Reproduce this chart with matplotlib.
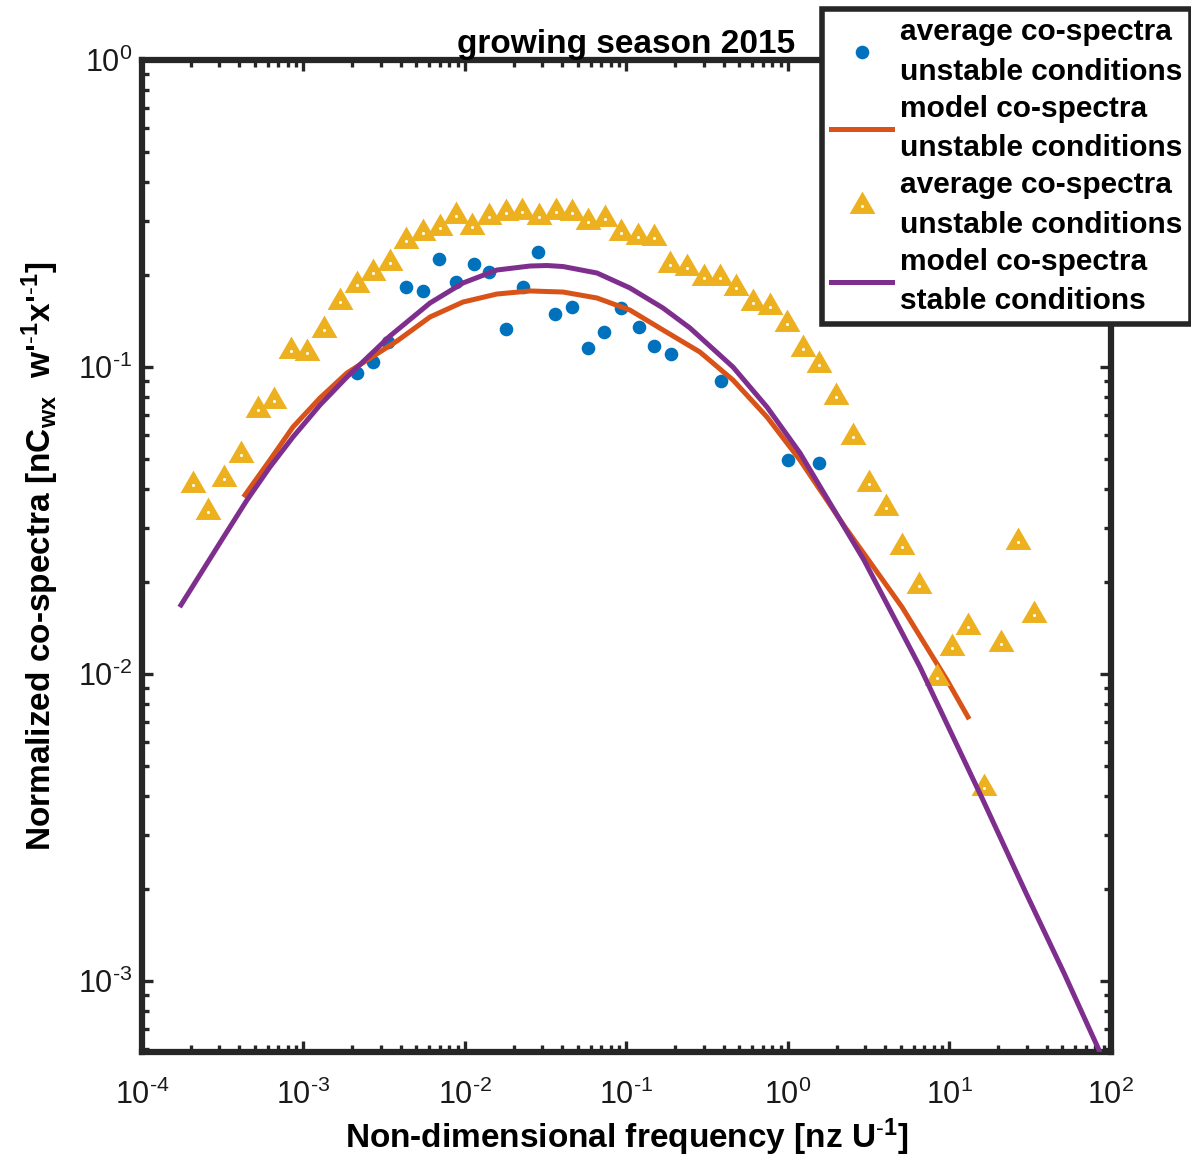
import numpy as np
import matplotlib.pyplot as plt
from matplotlib.ticker import LogLocator, NullFormatter, FuncFormatter
from matplotlib.legend_handler import HandlerTuple

plt.rcParams['font.family'] = ['Liberation Sans', 'DejaVu Sans']
plt.rcParams['mathtext.fontset'] = 'custom'
plt.rcParams['mathtext.rm'] = 'Liberation Sans'
plt.rcParams['mathtext.it'] = 'Liberation Sans:italic'
plt.rcParams['mathtext.bf'] = 'Liberation Sans:bold'
plt.rcParams['mathtext.default'] = 'regular'
plt.rcParams['axes.unicode_minus'] = False

# average co-spectra, unstable conditions (blue dots)
dots_x = [2.135e-3, 2.682e-3, 3.351e-3, 4.312e-3, 5.516e-3, 6.93e-3, 8.80e-3, 1.136e-2,
          1.402e-2, 1.794e-2, 2.277e-2, 2.831e-2, 3.623e-2, 4.598e-2, 5.776e-2, 7.256e-2,
          9.206e-2, 0.1190, 0.1480, 0.1894, 0.3847, 0.9958, 1.556]
dots_y = [0.0954, 0.1040, 0.1209, 0.1818, 0.1769, 0.2243, 0.1896, 0.2166,
          0.2035, 0.1332, 0.1826, 0.2364, 0.1488, 0.1569, 0.1150, 0.1303,
          0.1560, 0.1350, 0.1168, 0.1105, 0.0900, 0.0498, 0.0486]

# average co-spectra (yellow triangles)
tri_x = [2.077e-4, 2.573e-4, 3.219e-4, 4.102e-4, 5.205e-4, 6.595e-4, 8.330e-4, 1.056e-3,
         1.334e-3, 1.690e-3, 2.145e-3, 2.705e-3, 3.433e-3, 4.330e-3, 5.516e-3, 7.00e-3,
         8.80e-3, 1.110e-2, 1.408e-2, 1.786e-2, 2.264e-2, 2.872e-2, 3.644e-2, 4.618e-2,
         5.800e-2, 7.328e-2, 9.245e-2, 0.1173, 0.1486, 0.1859, 0.2369, 0.3019,
         0.3819, 0.4800, 0.6098, 0.7736, 0.9817, 1.244, 1.562, 1.982,
         2.515, 3.173, 4.027, 5.080, 6.474, 8.330, 10.32, 13.08,
         16.43, 20.75, 26.44, 33.51]
tri_y = [0.04126, 0.03363, 0.04317, 0.05168, 0.07244, 0.07750, 0.1130, 0.1108,
         0.1320, 0.1625, 0.1850, 0.2019, 0.2187, 0.2573, 0.2738, 0.2843,
         0.3103, 0.2864, 0.3087, 0.3167, 0.3205, 0.3087, 0.3205, 0.3167,
         0.2974, 0.3028, 0.2738, 0.2657, 0.2626, 0.2149, 0.2106, 0.1956,
         0.1956, 0.1804, 0.1620, 0.1572, 0.1380, 0.1142, 0.1015, 0.0800,
         0.0593, 0.0416, 0.03465, 0.02599, 0.01935, 0.009683, 0.01213, 0.01426,
         0.004243, 0.01250, 0.02685, 0.01557]

# model co-spectra, unstable conditions (orange line)
mod_u_x = [4.343e-4, 6.20e-4, 8.610e-4, 1.265e-3, 1.859e-3, 3.792e-3, 6.072e-3, 9.719e-3,
           1.578e-2, 2.527e-2, 4.044e-2, 6.569e-2, 0.1051, 0.1683, 0.2851, 0.4565,
           0.7413, 1.187, 2.253, 5.080, 9.650, 13.02]
mod_u_y = [0.03828, 0.04977, 0.06377, 0.07925, 0.09561, 0.1215, 0.1455, 0.1628,
           0.1729, 0.1769, 0.1755, 0.1678, 0.1533, 0.1320, 0.1119, 0.0907,
           0.06875, 0.04977, 0.03012, 0.01653, 0.009561, 0.007244]

# model co-spectra, stable conditions (purple line)
mod_s_x = [1.744e-4, 3.173e-4, 4.470e-4, 6.20e-4, 8.610e-4, 1.265e-3, 1.859e-3, 3.433e-3,
           6.072e-3, 9.719e-3, 1.578e-2, 2.527e-2, 3.219e-2, 4.044e-2, 6.569e-2, 0.1051,
           0.1683, 0.2473, 0.4565, 0.7413, 1.187, 2.955, 6.567, 16.12, 29.77, 51.17, 84.29]
mod_s_y = [0.01678, 0.02773, 0.03687, 0.04723, 0.05916, 0.07518, 0.09277, 0.1262,
           0.1616, 0.1878, 0.2070, 0.2133, 0.2141, 0.2125, 0.2024, 0.1809,
           0.1557, 0.1340, 0.1000, 0.07409, 0.05248, 0.02351, 0.01054, 0.003887,
           0.001935, 0.001062, 0.000596]

labels = ['average co-spectra\nunstable conditions',
          'model co-spectra\nunstable conditions',
          'average co-spectra\nunstable conditions',
          'model co-spectra\nstable conditions']

axcol = '#262626'
fig = plt.figure(figsize=(11.91, 11.63), dpi=100)
ax = fig.add_axes([0.1192, 0.0954, 0.8136, 0.8530])

# equilateral triangle centred on its centroid
tri = [(0, 2), (-1.732, -1), (1.732, -1)]

h1, = ax.plot(dots_x, dots_y, ls='none', marker='o', color='#0072BD', ms=9.8, mec='none', zorder=2)
h2, = ax.plot(mod_u_x, mod_u_y, '-', color='#D95319', lw=3.6, zorder=3,
              solid_joinstyle='round')
h3, = ax.plot(tri_x, tri_y, ls='none', marker=tri, color='#EDB120', ms=21.5, mec='none', zorder=4)
h3b, = ax.plot(tri_x, tri_y, ls='none', marker='o', color='white', ms=2.2, mec='none', zorder=4.5)
h4, = ax.plot(mod_s_x, mod_s_y, '-', color='#7E2F8E', lw=3.6, zorder=5,
              solid_joinstyle='round')

ax.set_xscale('log')
ax.set_yscale('log')
ax.set_xlim(1e-4, 1e2)
ax.set_ylim(5.87e-4, 1)


def pow10(v, pos):
    e = int(round(np.log10(v)))
    if e < 0:
        return r'$10^{\text{-}%d}$' % (-e)
    return r'$10^{%d}$' % e


ax.xaxis.set_major_locator(LogLocator(base=10, numticks=10))
ax.xaxis.set_minor_locator(LogLocator(base=10, subs=np.arange(2, 10), numticks=20))
ax.yaxis.set_minor_locator(LogLocator(base=10, subs=np.arange(2, 10), numticks=20))
ax.xaxis.set_major_formatter(FuncFormatter(pow10))
ax.yaxis.set_major_formatter(FuncFormatter(pow10))
ax.xaxis.set_minor_formatter(NullFormatter())
ax.yaxis.set_minor_formatter(NullFormatter())

for s in ax.spines.values():
    s.set_linewidth(4.5)
    s.set_color(axcol)
ax.tick_params(which='both', direction='in', top=True, right=True, color=axcol,
               width=2.4, labelsize=22, labelcolor='#1a1a1a')
ax.tick_params(which='major', length=8)
ax.tick_params(which='minor', length=4.7)
ax.tick_params(axis='x', pad=20)
ax.tick_params(axis='y', pad=7)

ax.set_title('growing season 2015', fontsize=24, fontweight='bold', pad=4)
ax.set_xlabel("Non-dimensional frequency [nz U$^{\\text{-}1}$]", fontsize=24,
              fontweight='bold', labelpad=4)
ax.set_ylabel("Normalized co-spectra [nC$_{wx}$  w'$^{\\text{-}1}$x'$^{\\text{-}1}$]",
              fontsize=24, fontweight='bold', labelpad=12)

leg = fig.legend([h1, h2, (h3, h3b), h4], labels, loc='upper left',
                 bbox_to_anchor=(822 / 1191, 1 - 9 / 1163), borderaxespad=0,
                 prop={'weight': 'bold', 'size': 21.5}, fancybox=False, framealpha=1,
                 edgecolor=axcol, borderpad=0.3, handlelength=2.05, handletextpad=0.25,
                 labelspacing=0.3, handler_map={tuple: HandlerTuple(ndivide=1)})
leg.get_frame().set_linewidth(4)
for t in leg.get_texts():
    t.set_linespacing(1.53)

fig.savefig('out.png', dpi=100)
